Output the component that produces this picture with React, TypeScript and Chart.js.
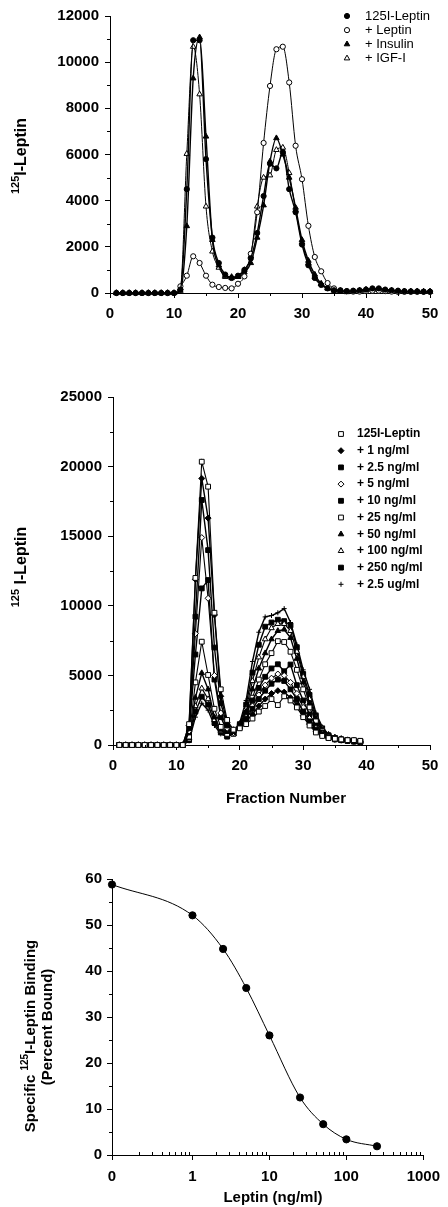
import React, { useEffect, useRef } from 'react';
import { Chart, registerables } from 'chart.js';
import { drawPoint } from 'chart.js/helpers';

Chart.register(...registerables);

const FONT = '"Liberation Sans", Arial, Helvetica, sans-serif';

// ---------------- Panel A: gel filtration, competitors ----------------
const fractionsA = [1,2,3,4,5,6,7,8,9,10,11,12,13,14,15,16,17,18,19,20,21,22,23,24,25,26,27,28,29,30,31,32,33,34,35,36,37,38,39,40,41,42,43,44,45,46,47,48,49,50];
const legendA = ['125I-Leptin', '+ Leptin', '+ Insulin', '+ IGF-I'];
const tracerA = [0,0,0,0,0,0,0,0,0,0,150,4500,10950,10950,5800,2400,1300,800,650,750,1000,1500,2600,4200,5600,5400,6100,4500,3500,2100,1200,650,350,200,120,100,80,100,120,150,200,200,150,120,100,80,70,70,60,60];
const plusLeptinA = [0,0,0,0,0,0,0,0,0,0,290,750,1590,1300,750,360,260,220,200,400,720,1700,3500,6500,8970,10560,10670,9120,6380,4930,2910,1560,940,430,200,120,80,60,60,80,100,100,80,60,50,50,50,50,50,50];
const plusInsulinA = [0,0,0,0,0,0,0,0,0,0,100,2900,9300,11080,6780,2300,1200,750,700,700,900,1300,2400,3800,5700,6710,6000,5000,3700,2300,1400,800,400,200,100,80,40,50,100,150,150,150,120,100,80,70,70,70,60,60];
const plusIgfA = [0,0,0,0,0,0,0,0,0,0,200,6030,10670,8610,3750,1800,1100,700,650,700,1000,1600,3750,5000,5100,6200,6300,5200,3600,2200,1300,700,400,200,150,100,50,80,100,120,150,150,120,100,80,70,60,60,60,60];
const yMajorA = [0, 12000, 2000];
const xMajorA = [0, 50, 10];
const yMinorA = [1000, 3000, 5000, 7000, 9000, 11000];
const xMinorA = [5, 15, 25, 35, 45];

// ---------------- Panel B: gel filtration, leptin doses ----------------
const fractionsB = [1,2,3,4,5,6,7,8,9,10,11,12,13,14,15,16,17,18,19,20,21,22,23,24,25,26,27,28,29,30,31,32,33,34,35,36,37,38,39];
const legendB = ['125I-Leptin', '+ 1 ng/ml', '+ 2.5 ng/ml', '+ 5 ng/ml', '+ 10 ng/ml', '+ 25 ng/ml', '+ 50 ng/ml', '+ 100 ng/ml', '+ 250 ng/ml', '+ 2.5 ug/ml'];
const z11 = [0,0,0,0,0,0,0,0,0,0,0];
const tracerB = [...z11, 1500,12000,20350,18560,9500,4000,1800,1100,1200,1500,1900,2400,2800,3300,2870,3500,3200,2700,2000,1400,900,650,500,450,400,350,350,300];
const dose1B = [...z11, 1400,11900,19150,16300,9340,3500,1600,1100,1300,1700,2200,2800,3300,3700,3900,3800,3400,2900,2100,1500,1000,700,500,400,350,300,300,250];
const dose2_5B = [...z11, 1200,9220,17600,14000,7000,3000,1400,1000,1300,1900,2600,3300,3900,4400,4700,4600,4000,3300,2400,1700,1100,750,500,400,350,300,250,250];
const dose5B = [...z11, 1000,8000,14900,10540,5000,2300,1200,900,1300,2000,2800,3600,4300,4800,5100,5000,4500,3700,2700,1900,1200,800,550,450,350,300,250,200];
const dose10B = [...z11, 900,6500,11250,11850,4700,2000,1000,900,1400,2300,3200,4100,4900,5500,5800,5300,5780,4300,3200,2200,1400,900,600,450,350,300,250,200];
const dose25B = [...z11, 600,4500,7420,5030,2600,1300,800,800,1300,2200,3400,4700,5800,6600,7460,7400,6700,5400,4000,2700,1700,1000,650,500,400,350,300,250];
const dose50B = [...z11, 500,3400,5170,4000,2000,1100,700,800,1300,2400,4000,5500,6600,7600,8200,8300,7700,6200,4500,3000,1900,1100,700,500,400,350,300,250];
const dose100B = [...z11, 400,2800,4070,3300,1800,1000,650,800,1400,2600,4600,6300,7600,8400,8700,8700,8200,6700,4900,3300,2000,1200,750,550,450,350,300,250];
const dose250B = [...z11, 350,2400,3470,2900,1600,900,600,850,1500,2900,5200,7200,8500,8800,9000,8900,8600,7000,5100,3600,2100,1200,700,500,400,350,300,250];
const dose2500B = [...z11, 300,2000,3000,2500,1400,800,600,900,1600,3200,6000,8100,9200,9300,9500,9800,8800,7200,5400,4000,2300,1300,750,550,450,400,350,300];
const yMajorB = [0, 25000, 5000];
const xMajorB = [0, 50, 10];
const yMinorB = [2500, 7500, 12500, 17500, 22500];
const xMinorB = [5, 15, 25, 35, 45];

// ---------------- Panel C: competition curve ----------------
const dosesC = [0, 1, 2.5, 5, 10, 25, 50, 100, 250];
const boundC = [58.8, 52.1, 44.8, 36.3, 26.0, 12.5, 6.7, 3.4, 1.9];
const xTicksC = [0.09, 1, 10, 100, 1000];
const xTickLabelsC = ['0', '1', '10', '100', '1000'];
const yMajorC = [0, 60, 10];
const yMinorC = [5, 15, 25, 35, 45, 55];
const xMinorC = [0.2,0.3,0.4,0.5,0.6,0.7,0.8,0.9,2,3,4,5,6,7,8,9,20,30,40,50,60,70,80,90,200,300,400,500,600,700,800,900];

// ---------------- helpers ----------------
type Seg = { t: string; sup?: boolean };

function drawVText(ctx: CanvasRenderingContext2D, cx: number, cy: number, segs: Seg[], size: number, supSize: number) {
  ctx.save();
  ctx.translate(cx, cy);
  ctx.rotate(-Math.PI / 2);
  ctx.fillStyle = '#000';
  ctx.textBaseline = 'middle';
  ctx.textAlign = 'left';
  const fontOf = (s: Seg) => `bold ${s.sup ? supSize : size}px ${FONT}`;
  let total = 0;
  for (const s of segs) { ctx.font = fontOf(s); total += ctx.measureText(s.t).width; }
  let x = -total / 2;
  for (const s of segs) {
    ctx.font = fontOf(s);
    ctx.fillText(s.t, x, s.sup ? -size * 0.38 : 0);
    x += ctx.measureText(s.t).width;
  }
  ctx.restore();
}

function drawHText(ctx: CanvasRenderingContext2D, cx: number, cy: number, text: string, size: number) {
  ctx.save();
  ctx.fillStyle = '#000';
  ctx.font = `bold ${size}px ${FONT}`;
  ctx.textAlign = 'center';
  ctx.textBaseline = 'middle';
  ctx.fillText(text, cx, cy);
  ctx.restore();
}

function minorTicksPlugin(xs: number[], ys: number[], xUp: boolean) {
  return {
    id: 'minorTicks',
    afterDraw(chart: any) {
      const { ctx, chartArea, scales } = chart;
      ctx.save();
      ctx.strokeStyle = '#000';
      ctx.lineWidth = 1;
      ctx.beginPath();
      for (const v of ys) {
        const y = Math.round(scales.y.getPixelForValue(v)) + 0.5;
        ctx.moveTo(chartArea.left - 3, y);
        ctx.lineTo(chartArea.left, y);
      }
      for (const v of xs) {
        const x = Math.round(scales.x.getPixelForValue(v)) + 0.5;
        ctx.moveTo(x, chartArea.bottom);
        ctx.lineTo(x, chartArea.bottom + (xUp ? -3 : 3));
      }
      ctx.stroke();
      ctx.restore();
    },
  };
}

type LegendItem = { label: string; style: string; filled: boolean; r: number };

function legendPlugin(items: LegendItem[], mx: number, tx: number, y0: number, dy: number, font: string) {
  return {
    id: 'customLegend',
    afterDraw(chart: any) {
      const ctx = chart.ctx as CanvasRenderingContext2D;
      ctx.save();
      items.forEach((it, i) => {
        const y = y0 + i * dy;
        ctx.fillStyle = it.filled ? '#000' : '#fff';
        ctx.strokeStyle = '#000';
        ctx.lineWidth = 1;
        drawPoint(ctx, { pointStyle: it.style as any, radius: it.r, rotation: 0, borderWidth: 1 } as any, mx, y);
        ctx.fillStyle = '#000';
        ctx.font = font;
        ctx.textBaseline = 'middle';
        ctx.textAlign = 'left';
        ctx.fillText(it.label, tx, y);
      });
      ctx.restore();
    },
  };
}

function titlesPlugin(draw: (ctx: CanvasRenderingContext2D) => void) {
  return { id: 'titles', afterDraw(chart: any) { draw(chart.ctx); } };
}

const tickFont = { family: FONT, size: 15, weight: 'bold' as const };

function axisCommon(padding: number) {
  return {
    grid: { drawOnChartArea: false, drawTicks: true, tickLength: 5, color: '#000', tickColor: '#000', lineWidth: 1 },
    border: { display: true, color: '#000', width: 1 },
    ticks: { font: tickFont, color: '#000', padding, autoSkip: false, maxRotation: 0, minRotation: 0 },
  };
}

function linearAxis(range: number[], padding: number, fit: (s: any) => void) {
  const c = axisCommon(padding);
  return {
    type: 'linear',
    min: range[0],
    max: range[1],
    grid: c.grid,
    border: c.border,
    ticks: { ...c.ticks, stepSize: range[2], callback: (v: any) => String(v) },
    afterFit: fit,
  };
}

function seriesDatasets(xs: number[], series: { label: string; values: number[]; style: string; filled: boolean; r: number; w: number }[], smooth: boolean) {
  return series.map((s) => ({
    label: s.label,
    data: xs.map((x, i) => ({ x, y: s.values[i] })),
    borderColor: '#000',
    borderWidth: s.w,
    backgroundColor: s.filled ? '#000' : '#fff',
    pointStyle: s.style,
    pointRadius: s.r,
    pointBorderWidth: 1,
    pointBorderColor: '#000',
    pointBackgroundColor: s.filled ? '#000' : '#fff',
    cubicInterpolationMode: smooth ? 'monotone' : 'default',
    tension: 0,
    fill: false,
    clip: false,
  }));
}

// ---------------- configs ----------------
const stylesA = [
  { style: 'circle', filled: true, r: 2.6, w: 1.4 },
  { style: 'circle', filled: false, r: 2.6, w: 1 },
  { style: 'triangle', filled: true, r: 3.2, w: 1.4 },
  { style: 'triangle', filled: false, r: 3.2, w: 1 },
];
const valuesA = [tracerA, plusLeptinA, plusInsulinA, plusIgfA];

const stylesB = [
  { style: 'rect', filled: false, r: 3.4, w: 1.1 },
  { style: 'rectRot', filled: true, r: 3, w: 1.4 },
  { style: 'rect', filled: true, r: 3.4, w: 1.4 },
  { style: 'rectRot', filled: false, r: 3, w: 1.1 },
  { style: 'rect', filled: true, r: 3.4, w: 1.4 },
  { style: 'rect', filled: false, r: 3.4, w: 1.1 },
  { style: 'triangle', filled: true, r: 3.2, w: 1.4 },
  { style: 'triangle', filled: false, r: 3.2, w: 1.1 },
  { style: 'rect', filled: true, r: 3.4, w: 1.4 },
  { style: 'cross', filled: true, r: 2.5, w: 1.4 },
];
const valuesB = [tracerB, dose1B, dose2_5B, dose5B, dose10B, dose25B, dose50B, dose100B, dose250B, dose2500B];

function configA(): any {
  const series = legendA.map((label, i) => ({ label, values: valuesA[i], ...stylesA[i] }));
  return {
    type: 'line',
    data: { datasets: seriesDatasets(fractionsA, series, true) },
    options: {
      animation: false,
      responsive: false,
      layout: { padding: { left: 0, right: 18, top: 16, bottom: 0 } },
      plugins: { legend: { display: false }, tooltip: { enabled: false }, title: { display: false } },
      scales: {
        x: linearAxis(xMajorA, 7, (s: any) => { s.height = 37; }),
        y: linearAxis(yMajorA, 6, (s: any) => { s.width = 110; }),
      },
    },
    plugins: [
      minorTicksPlugin(xMinorA, yMinorA, false),
      legendPlugin(series.map((s) => ({ label: s.label, style: s.style, filled: s.filled, r: s.r })), 347, 365, 16, 14.1, `13px ${FONT}`),
      titlesPlugin((ctx) => drawVText(ctx, 22, 156, [{ t: '125', sup: true }, { t: 'I-Leptin' }], 16, 11)),
    ],
  };
}

function configB(): any {
  const series = legendB.map((label, i) => ({ label, values: valuesB[i], ...stylesB[i] }));
  return {
    type: 'line',
    data: { datasets: seriesDatasets(fractionsB, series, false) },
    options: {
      animation: false,
      responsive: false,
      layout: { padding: { left: 0, right: 18, top: 27, bottom: 0 } },
      plugins: { legend: { display: false }, tooltip: { enabled: false }, title: { display: false } },
      scales: {
        x: linearAxis(xMajorB, 7, (s: any) => { s.height = 75; }),
        y: linearAxis(yMajorB, 6, (s: any) => { s.width = 113; }),
      },
    },
    plugins: [
      minorTicksPlugin(xMinorB, yMinorB, false),
      legendPlugin(series.map((s) => ({ label: s.label, style: s.style, filled: s.filled, r: s.r })), 341, 357, 64, 16.7, `bold 12px ${FONT}`),
      titlesPlugin((ctx) => {
        drawVText(ctx, 22, 197, [{ t: '125', sup: true }, { t: ' I-Leptin' }], 16, 11);
        drawHText(ctx, 286, 429, 'Fraction Number', 15);
      }),
    ],
  };
}

function configC(): any {
  const xMin = xTicksC[0];
  const c = axisCommon(8);
  return {
    type: 'line',
    data: {
      datasets: [
        {
          label: 'Specific binding',
          data: dosesC.map((d, i) => ({ x: d === 0 ? xMin : d, y: boundC[i] })),
          borderColor: '#000',
          borderWidth: 1,
          backgroundColor: '#000',
          pointStyle: 'circle',
          pointRadius: 3.6,
          pointBorderWidth: 1,
          pointBorderColor: '#000',
          pointBackgroundColor: '#000',
          cubicInterpolationMode: 'monotone',
          fill: false,
          clip: false,
        },
      ],
    },
    options: {
      animation: false,
      responsive: false,
      layout: { padding: { left: 0, right: 18, top: 29, bottom: 0 } },
      plugins: { legend: { display: false }, tooltip: { enabled: false }, title: { display: false } },
      scales: {
        x: {
          type: 'logarithmic',
          min: xTicksC[0],
          max: xTicksC[xTicksC.length - 1],
          grid: c.grid,
          border: c.border,
          ticks: {
            ...c.ticks,
            callback: (v: any) => {
              const idx = xTicksC.findIndex((t) => Math.abs(t - v) < 1e-9);
              return idx >= 0 ? xTickLabelsC[idx] : '';
            },
          },
          afterBuildTicks: (s: any) => { s.ticks = xTicksC.map((v) => ({ value: v })); },
          afterFit: (s: any) => { s.height = 52; },
        },
        y: linearAxis(yMajorC, 5, (s: any) => { s.width = 112; }),
      },
    },
    plugins: [
      minorTicksPlugin(xMinorC, yMinorC, true),
      titlesPlugin((ctx) => {
        drawVText(ctx, 31, 186, [{ t: 'Specific ' }, { t: '125', sup: true }, { t: 'I-Leptin Binding' }], 15, 10);
        drawVText(ctx, 48, 177, [{ t: '(Percent Bound)' }], 15, 10);
        drawHText(ctx, 273, 348, 'Leptin (ng/ml)', 15);
      }),
    ],
  };
}

function ChartBox({ make, top, height }: { make: () => any; top: number; height: number }) {
  const ref = useRef<HTMLCanvasElement | null>(null);
  useEffect(() => {
    if (!ref.current) return;
    const chart = new Chart(ref.current, make());
    return () => chart.destroy();
  }, [make]);
  return (
    <canvas
      ref={ref}
      width={448}
      height={height}
      style={{ position: 'absolute', left: 0, top, width: 448, height, display: 'block' }}
    />
  );
}

export default function App() {
  return (
    <div style={{ position: 'absolute', left: 0, top: 0, width: 448, height: 1207, background: '#fff', overflow: 'hidden' }}>
      <ChartBox make={configA} top={0} height={330} />
      <ChartBox make={configB} top={370} height={450} />
      <ChartBox make={configC} top={850} height={357} />
    </div>
  );
}
